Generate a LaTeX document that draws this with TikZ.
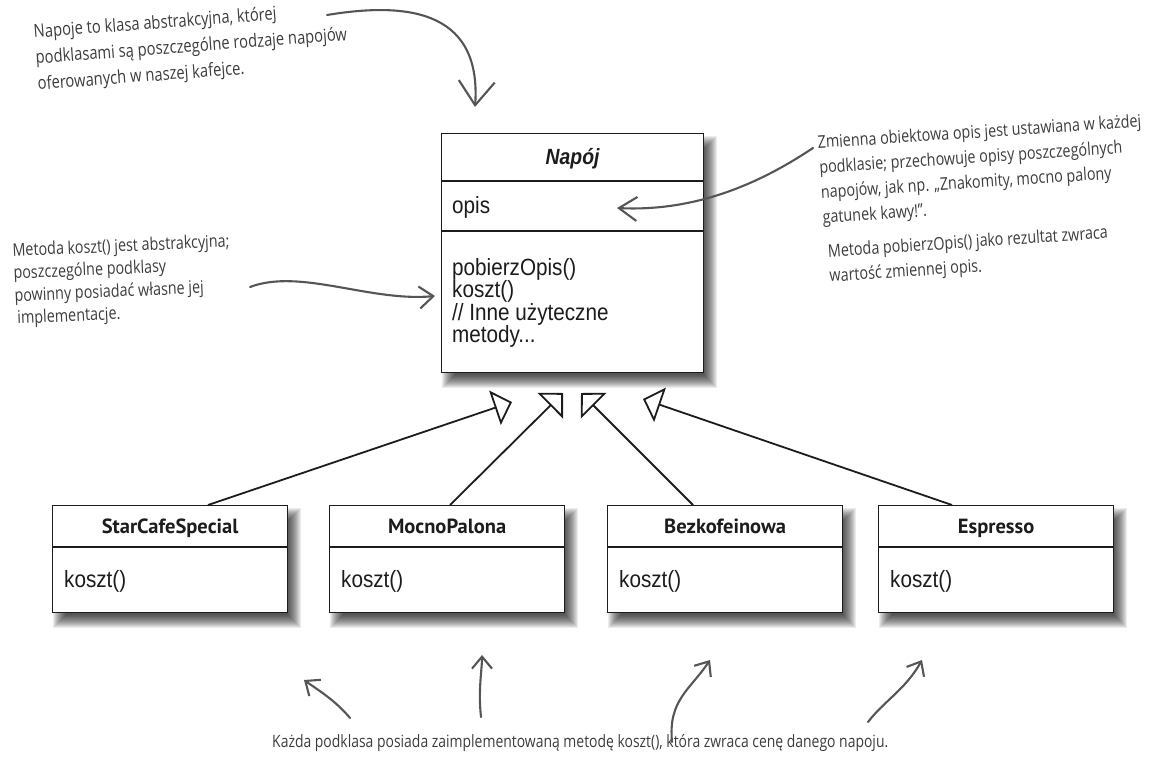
\documentclass[tikz,border=0pt]{standalone}
\usepackage{fontspec}
\setmainfont{Liberation Sans}
\newfontfamily\umlfont{Liberation Sans}[FakeStretch=0.88]
\newfontfamily\headfont{PT Sans}
\newfontfamily\handfont{Open Sans}[FakeStretch=0.82]
\usetikzlibrary{arrows.meta,calc}
\pgfdeclarelayer{background}
\pgfsetlayers{background,main}

\definecolor{ink}{HTML}{1C1C1C}
\definecolor{pen}{HTML}{3C3C3C}
\definecolor{penline}{HTML}{555555}

% soft drop shadow below and to the right of a class box
\newcommand\softshadow[1]{%
  \begin{pgfonlayer}{background}
    \foreach \sh in {0,...,13}{%
      \fill[black,opacity=0.075]
        ($(#1.north west)+(1+\sh,3+\sh)$) rectangle ($(#1.south east)+(13-\sh,15-\sh)$);
    }%
  \end{pgfonlayer}}

% concrete beverage class: name compartment and one operation
\newcommand\subclass[3]{%
  \node[classbox, minimum width=235pt, minimum height=107pt] (#1) at (#2,505) {};
  \draw[classline] ($(#1.north west)+(0,42)$) -- ($(#1.north east)+(0,42)$);
  \node[headtext] (#1-name) at ($(#1.north)+(0,28)$) {#3};
  \node[optext] (#1-op) at ($(#1.north west)+(12,82)$) {koszt()};
  \softshadow{#1}}

\begin{document}
\begin{tikzpicture}[x=1pt,y=-1pt,
  classbox/.style={draw=ink, fill=white, line width=1.2pt, anchor=north west, inner sep=0pt},
  classline/.style={draw=ink, line width=1.2pt},
  headtext/.style={font=\headfont\bfseries\fontsize{20.5}{20.5}\selectfont, text=ink, anchor=base, inner sep=0pt},
  titletext/.style={font=\umlfont\bfseries\itshape\fontsize{22}{22}\selectfont, text=ink, anchor=base, inner sep=0pt},
  optext/.style={font=\umlfont\fontsize{23.5}{22.5}\selectfont, text=ink, anchor=base west, inner sep=0pt},
  inherit/.style={draw=ink, line width=1.8pt, -{Triangle[open, length=18pt, width=36pt]}},
  note/.style={font=\handfont\fontsize{17.5}{25}\selectfont, text=pen, align=left, inner sep=0pt, anchor=north west},
  pointer/.style={draw=penline, line width=2.1pt, line cap=round, line join=round}
]
\useasboundingbox (0,0) rectangle (1158,765);

% abstract base class
\node[classbox, minimum width=262pt, minimum height=239pt] (napoj) at (441,133) {};
\draw[classline] ($(napoj.north west)+(0,48)$) -- ($(napoj.north east)+(0,48)$);
\draw[classline] ($(napoj.north west)+(0,98)$) -- ($(napoj.north east)+(0,98)$);
\node[titletext] (napoj-name) at ($(napoj.north)+(0,31)$) {Napój};
\node[optext] (napoj-field) at ($(napoj.north west)+(11,80)$) {opis};
\node[optext, anchor=north west, align=left] (napoj-ops) at ($(napoj.north west)+(11,125)$)
  {pobierzOpis()\\koszt()\\// Inne użyteczne\\metody...};
\softshadow{napoj}

% concrete subclasses
\subclass{starcafe}{52}{StarCafeSpecial}
\subclass{mocno}{329}{MocnoPalona}
\subclass{bezko}{607}{Bezkofeinowa}
\subclass{espresso}{878}{Espresso}

% generalisation arrows (heads float just under the base class)
\coordinate (t1) at (512,402);
\coordinate (t2) at (563,393);
\coordinate (t3) at (581,393);
\coordinate (t4) at (643,399);
\draw[inherit] ($(starcafe.north west)+(156,0)$) -- (t1);
\draw[inherit] ($(mocno.north west)+(121,0)$) -- (t2);
\draw[inherit] ($(bezko.north west)+(86,0)$) -- (t3);
\draw[inherit] ($(espresso.north west)+(74,0)$) -- (t4);

% handwritten remarks
\node[note, rotate=4.3, font=\handfont\fontsize{18}{26}\selectfont] (note-abstract) at (33,24)
  {Napoje to klasa abstrakcyjna, której\\podklasami są poszczególne rodzaje napojów\\oferowanych w naszej kafejce.};
\node[note, rotate=3.8] (note-field) at (817,135)
  {Zmienna obiektowa opis jest ustawiana w każdej\\podklasie; przechowuje opisy poszczególnych\\napojów, jak np. „Znakomity, mocno palony\\gatunek kawy!”.\\[9pt]\hspace{3pt}Metoda pobierzOpis() jako rezultat zwraca\\\hspace{3pt}wartość zmiennej opis.};
\node[note, rotate=2.5, font=\handfont\fontsize{17.5}{22.5}\selectfont] (note-cost) at (12,243)
  {Metoda koszt() jest abstrakcyjna;\\poszczególne podklasy\\powinny posiadać własne jej\\\hspace{2pt}implementacje.};
\node[note, anchor=base west, font=\handfont\fontsize{17}{20}\selectfont] (note-sub) at (272,747)
  {Każda podklasa posiada zaimplementowaną metodę koszt(), która zwraca cenę danego napoju.};

% hand-drawn pointers
\coordinate (p-abs-from) at (327,15);
\coordinate (p-abs-to) at (475,107);
\coordinate (p-field-from) at (813,148);
\coordinate (p-field-to) at (617,208);
\coordinate (p-cost-from) at (250,287);
\coordinate (p-cost-to) at (435,296);
\coordinate (p-s1-from) at (350,718);
\coordinate (p-s1-to) at (304,680);
\coordinate (p-s2-from) at (481,717);
\coordinate (p-s2-to) at (482,655);
\coordinate (p-s3-from) at (672,742);
\coordinate (p-s3-to) at (710,660);
\coordinate (p-s4-from) at (868,722);
\coordinate (p-s4-to) at (922,660);

\draw[pointer, -{Straight Barb[length=24pt,width=36pt]}] (p-abs-from) .. controls (400,3) and (482,6) .. (p-abs-to);
\draw[pointer, -{Straight Barb[length=18pt,width=24pt]}] (p-field-from) .. controls (765,180) and (700,212) .. (p-field-to);
\draw[pointer, -{Straight Barb[length=14pt,width=22pt]}] (p-cost-from) .. controls (300,268) and (370,302) .. (p-cost-to);
\draw[pointer, -{Straight Barb[length=12pt,width=20pt]}] (p-s1-from) .. controls (335,700) and (318,690) .. (p-s1-to);
\draw[pointer, -{Straight Barb[length=12pt,width=20pt]}] (p-s2-from) .. controls (478,690) and (482,670) .. (p-s2-to);
\draw[pointer, -{Straight Barb[length=12pt,width=20pt]}] (p-s3-from) .. controls (668,700) and (690,690) .. (p-s3-to);
\draw[pointer, -{Straight Barb[length=12pt,width=20pt]}] (p-s4-from) .. controls (885,700) and (905,690) .. (p-s4-to);
\end{tikzpicture}
\end{document}
